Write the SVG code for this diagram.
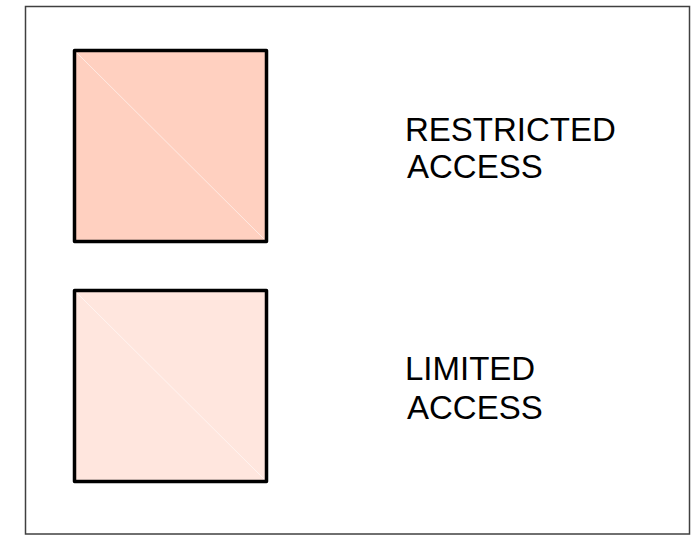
<svg xmlns="http://www.w3.org/2000/svg" width="692" height="540" viewBox="0 0 692 540">
<style>
.frame{fill:#ffffff;stroke:#404040;stroke-width:1.5}
.box{stroke:#000000;stroke-width:3.5;stroke-linejoin:round}
.diag{stroke:#ffffff;stroke-width:0.8;stroke-opacity:0.7}
.lbl{font-family:"Liberation Sans",Arial,sans-serif;font-size:33px;fill:#000000}
</style>
<rect width="692" height="540" fill="#ffffff"/>
<rect class="frame" x="25.5" y="6.5" width="664" height="527.5"/>
<g id="restricted">
<rect class="box" x="74.5" y="50.5" width="192" height="191" fill="#ffd0c0"/>
<line class="diag" x1="77" y1="53" x2="264" y2="239"/>
<text class="lbl" x="405" y="141">RESTRICTED</text>
<text class="lbl" x="407" y="178">ACCESS</text>
</g>
<g id="limited">
<rect class="box" x="74.5" y="290.5" width="192" height="191" fill="#ffe6de"/>
<line class="diag" x1="77" y1="293" x2="264" y2="479"/>
<text class="lbl" x="405" y="380">LIMITED</text>
<text class="lbl" x="407" y="419">ACCESS</text>
</g>
<g id="connectors"/>
</svg>
